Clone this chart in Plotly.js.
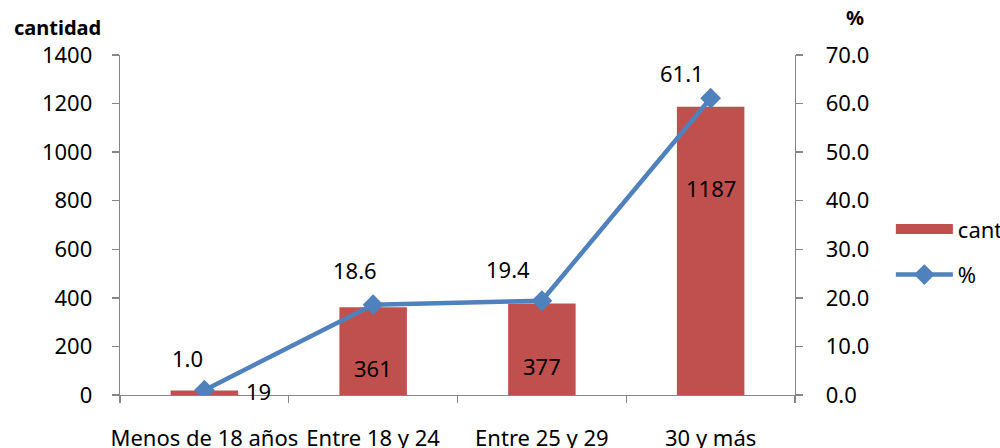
<!DOCTYPE html>
<html><head><meta charset="utf-8">
<script src="https://cdn.plot.ly/plotly-3.0.1.min.js"></script>
<style>body{margin:0;background:#fff}#c{width:1000px;height:448px}</style>
</head><body><div id="c"></div>
<script>
const categories = ["Menos de 18 años", "Entre 18 y 24", "Entre 25 y 29", "30 y más"];
const cantidad = [19, 361, 377, 1187];
const porcentaje = [1.0, 18.6, 19.4, 61.1];
const leftTicks = [0, 200, 400, 600, 800, 1000, 1200, 1400];
const rightTicks = [0, 10, 20, 30, 40, 50, 60, 70];

const F = "Noto Sans, sans-serif";
const FS = 22;
const barLabelOffsets = [{x:54,y:-1},{x:0,y:-61},{x:0,y:-63},{x:0,y:-81}];
const lineLabelOffsets = [{x:-17,y:32},{x:-18,y:35},{x:-34,y:32},{x:-29,y:25}];

const annotations = [];
categories.forEach((c,i)=>{
  annotations.push({x:c, y:cantidad[i], xref:'x', yref:'y', text:String(cantidad[i]), showarrow:false,
    xshift:barLabelOffsets[i].x, yshift:barLabelOffsets[i].y, font:{family:F,size:FS,color:'#000'}});
  annotations.push({x:c, y:porcentaje[i], xref:'x', yref:'y2', text:porcentaje[i].toFixed(1), showarrow:false,
    xshift:lineLabelOffsets[i].x, yshift:lineLabelOffsets[i].y, font:{family:F,size:FS,color:'#000'}});
});
annotations.push({xref:'paper', yref:'paper', x:-0.16, y:1.082, xanchor:'left', yanchor:'middle', text:'<b>cantidad</b>', showarrow:false, font:{family:F,size:20,color:'#000'}});
annotations.push({xref:'paper', yref:'paper', x:1.089, y:1.109, xanchor:'center', yanchor:'middle', text:'<b>%</b>', showarrow:false, font:{family:F,size:20,color:'#000'}});

const data = [
  {type:'bar', name:'cantidad', x:categories, y:cantidad, marker:{color:'#C0504D'}, width:0.4, yaxis:'y', showlegend:false},
  {type:'scatter', mode:'lines', name:'cantidad', x:[null], y:[null], yaxis:'y', legendgroup:'a',
   line:{color:'#C0504D', width:14}, hoverinfo:'skip'},
  {type:'scatter', mode:'lines+markers', name:'%', x:categories, y:porcentaje, yaxis:'y2', legendgroup:'b',
   line:{color:'#4F81BD', width:4.5}, marker:{symbol:'diamond', size:16, color:'#4F81BD'}}
];
const axisCommon = {showgrid:false, zeroline:false, showline:true, linecolor:'#868686', linewidth:1.3,
  ticks:'outside', ticklen:7, tickcolor:'#868686', tickwidth:1.3, tickfont:{family:F,size:FS,color:'#000'}};
const layout = {
  width:1000, height:448, margin:{l:120, r:205, t:55, b:53, autoexpand:false},
  paper_bgcolor:'#fff', plot_bgcolor:'#fff', showlegend:true,
  xaxis:Object.assign({}, axisCommon, {type:'category', tickangle:0, ticklabelstandoff:23, tickson:'boundaries', range:[-0.5,3.5]}),
  yaxis:Object.assign({}, axisCommon, {range:[0,1400], tickvals:leftTicks, ticktext:leftTicks.map(String), ticklabelstandoff:15}),
  yaxis2:Object.assign({}, axisCommon, {overlaying:'y', side:'right', range:[0,70], tickvals:rightTicks, ticktext:rightTicks.map(v=>v.toFixed(1)), ticklabelstandoff:18}),
  legend:{x:1.142, y:0.42, xanchor:'left', yanchor:'middle', font:{family:F,size:FS,color:'#000'}, itemwidth:57,
    traceorder:'grouped', tracegroupgap:14, bgcolor:'rgba(0,0,0,0)'},
  annotations:annotations
};
Plotly.newPlot('c', data, layout, {displayModeBar:false, staticPlot:true});
</script></body></html>
